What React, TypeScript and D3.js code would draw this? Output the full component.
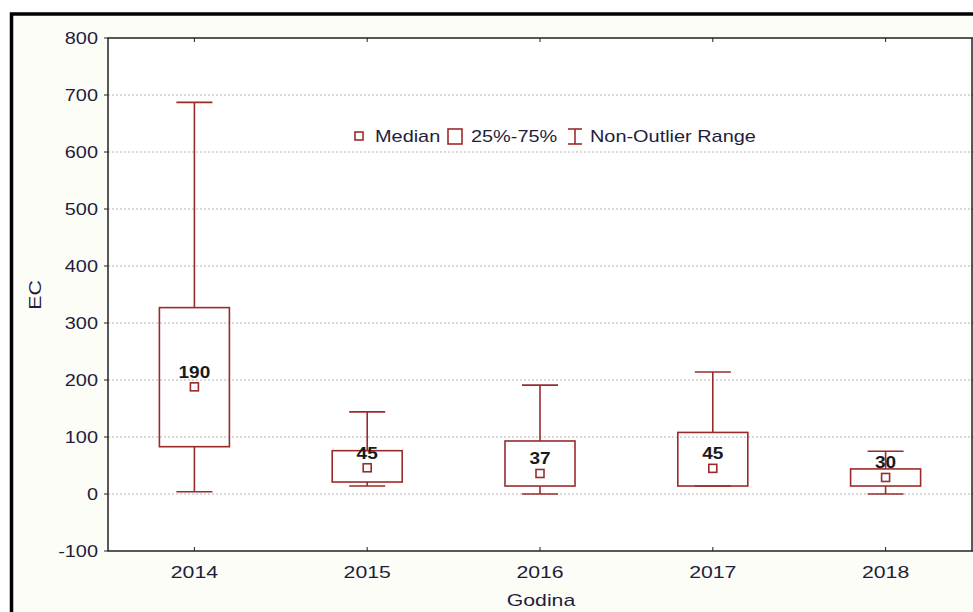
import React from 'react';
import * as d3 from 'd3';

// values
const years = ['2014', '2015', '2016', '2017', '2018'];
const whiskerLow = [4, 14, 0, 14, 0];
const q1 = [83, 21, 14, 14, 14];
const medians = [188, 46, 36, 45, 29];
const q3 = [327, 76, 93, 108, 44];
const whiskerHigh = [687, 144, 191, 214, 75];
const medianLabels = ['190', '45', '37', '45', '30'];
const yTicks = [-100, 0, 100, 200, 300, 400, 500, 600, 700, 800];

const W = 973;
const H = 612;
const plot = { left: 108, right: 972, top: 38, bottom: 551 };
const boxColor = '#9b2b2b';
const textColor = '#1e1e3c';
const font = 'Arial, "Liberation Sans", sans-serif';

// text widened along its baseline (the picture's text is wider than plain Arial)
const T: React.FC<{ x: number; y: number; anchor?: string; size?: number; bold?: boolean; fill?: string; rotate?: number; sx?: number; children: React.ReactNode }> =
  ({ x, y, anchor = 'start', size = 17, bold = false, fill = textColor, rotate = 0, sx = 1.22, children }) => (
    <text transform={`translate(${x},${y}) rotate(${rotate}) scale(${sx},1)`} textAnchor={anchor}
      dy="0.35em" fontSize={size} fontWeight={bold ? 'bold' : 'normal'} fill={fill}>{children}</text>
  );

const App: React.FC = () => {
  const x = d3.scaleBand<string>().domain(years).range([plot.left, plot.right]).padding(0);
  const y = d3.scaleLinear().domain([-100, 800]).range([plot.bottom, plot.top]);
  const cx = (yr: string) => (x(yr) as number) + x.bandwidth() / 2;
  const boxW = 70;
  const capW = 36;

  return (
    <div style={{ position: 'absolute', left: 0, top: 0 }}>
      <svg width={W} height={H} style={{ display: 'block', fontFamily: font }}>
        <rect x={0} y={0} width={W} height={H} fill="#fff" />
        {/* outer frame */}
        <rect x={11.5} y={14} width={W + 20} height={H + 20} fill="#fdfdf8" stroke="#000" strokeWidth={3.5} />
        {/* plot area */}
        <rect x={plot.left} y={plot.top} width={plot.right - plot.left} height={plot.bottom - plot.top} fill="#fff" />

        {/* grid */}
        {yTicks.filter(t => t > -100 && t < 800).map(t => (
          <line key={'g' + t} x1={plot.left} x2={plot.right} y1={y(t)} y2={y(t)}
            stroke="#b4b4b4" strokeWidth={1} strokeDasharray="2,2" />
        ))}

        {/* y ticks & labels */}
        {yTicks.map(t => (
          <g key={'y' + t}>
            <line x1={plot.left - 4} x2={plot.left} y1={y(t)} y2={y(t)} stroke="#222" />
            <line x1={plot.right} x2={plot.right + 4} y1={y(t)} y2={y(t)} stroke="#222" />
            <T x={plot.left - 10} y={y(t)} anchor="end" sx={1.17}>{t}</T>
          </g>
        ))}

        {/* x ticks & labels */}
        {years.map(yr => (
          <g key={'x' + yr}>
            <line x1={cx(yr)} x2={cx(yr)} y1={plot.bottom} y2={plot.bottom - 4} stroke="#222" />
            <line x1={cx(yr)} x2={cx(yr)} y1={plot.top} y2={plot.top + 4} stroke="#222" />
            <T x={cx(yr)} y={572} anchor="middle" sx={1.25}>{yr}</T>
          </g>
        ))}

        {/* boxes */}
        {years.map((yr, i) => {
          const c = cx(yr);
          return (
            <g key={'b' + yr} stroke={boxColor} strokeWidth={1.6} fill="none">
              <line x1={c} x2={c} y1={y(whiskerHigh[i])} y2={y(q3[i])} />
              <line x1={c} x2={c} y1={y(q1[i])} y2={y(whiskerLow[i])} />
              <line x1={c - capW / 2} x2={c + capW / 2} y1={y(whiskerHigh[i])} y2={y(whiskerHigh[i])} />
              <line x1={c - capW / 2} x2={c + capW / 2} y1={y(whiskerLow[i])} y2={y(whiskerLow[i])} />
              <rect x={c - boxW / 2} y={y(q3[i])} width={boxW} height={y(q1[i]) - y(q3[i])} />
              <rect x={c - 4} y={y(medians[i]) - 4} width={8} height={8} />
            </g>
          );
        })}

        {/* median labels */}
        {years.map((yr, i) => (
          <T key={'m' + yr} x={cx(yr)} y={y(medians[i]) - 15} anchor="middle" bold fill="#1a1a1a" sx={1.12}>{medianLabels[i]}</T>
        ))}

        {/* plot border */}
        <rect x={plot.left} y={plot.top} width={plot.right - plot.left} height={plot.bottom - plot.top}
          fill="none" stroke="#222" strokeWidth={1.5} />

        {/* legend */}
        <rect x={355} y={132} width={8} height={8} fill="none" stroke={boxColor} strokeWidth={1.6} />
        <T x={375} y={136} sx={1.17}>Median</T>
        <rect x={448} y={129} width={14} height={15} fill="none" stroke={boxColor} strokeWidth={1.6} />
        <T x={471} y={136} sx={1.17}>25%-75%</T>
        <g stroke={boxColor} strokeWidth={1.6}>
          <line x1={568} x2={582} y1={129} y2={129} />
          <line x1={575} x2={575} y1={129} y2={144} />
          <line x1={568} x2={582} y1={144} y2={144} />
        </g>
        <T x={590} y={136} sx={1.17}>Non-Outlier Range</T>

        {/* axis titles */}
        <T x={541} y={600} anchor="middle" sx={1.25}>Godina</T>
        <T x={35} y={295} anchor="middle" rotate={-90} sx={1.25}>EC</T>
      </svg>
    </div>
  );
};

export default App;
